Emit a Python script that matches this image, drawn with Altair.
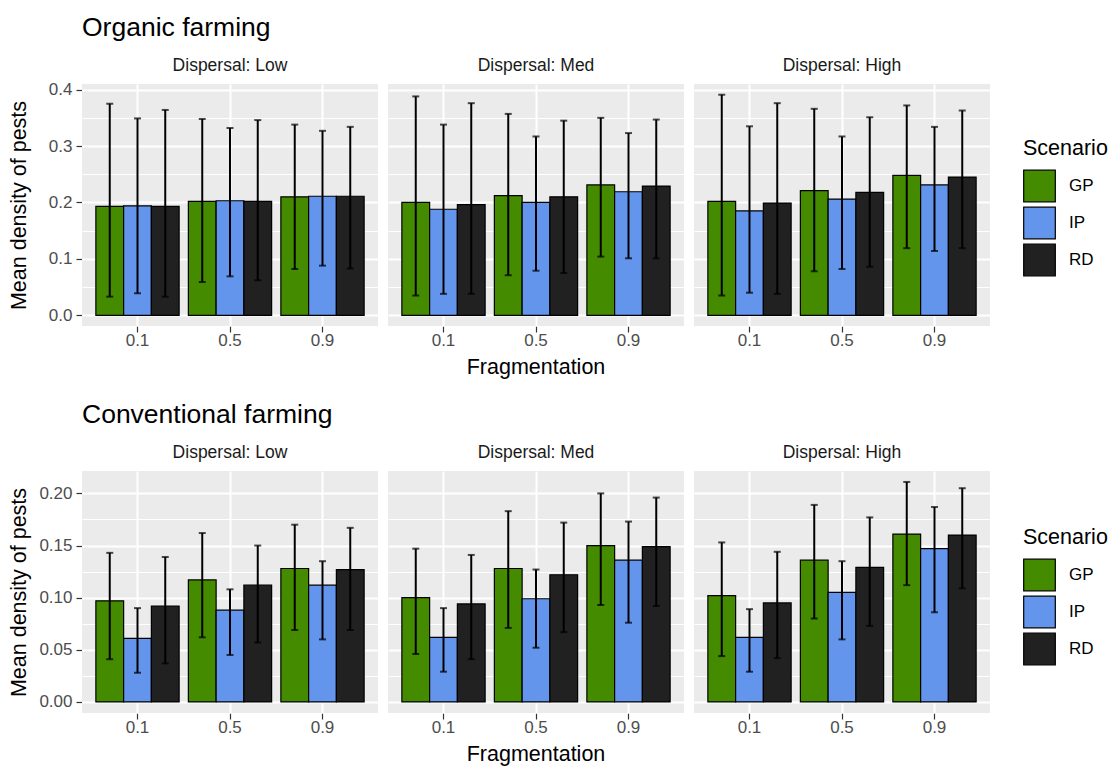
import altair as alt
import pandas as pd

fragmentation = ["0.1", "0.5", "0.9"]
dispersal = ["Low", "Med", "High"]
scenario = ["GP", "IP", "RD"]
colors = ["#458B00", "#6495ED", "#212121"]

# values ordered: fragmentation (outer) x scenario (inner), one list per dispersal level
org_mean = {
    "Low":  [0.193, 0.194, 0.193, 0.202, 0.203, 0.202, 0.210, 0.211, 0.211],
    "Med":  [0.200, 0.188, 0.196, 0.212, 0.200, 0.210, 0.231, 0.219, 0.229],
    "High": [0.202, 0.185, 0.199, 0.221, 0.206, 0.218, 0.248, 0.231, 0.245],
}
org_lo = {
    "Low":  [0.033, 0.039, 0.033, 0.059, 0.069, 0.062, 0.082, 0.088, 0.083],
    "Med":  [0.035, 0.038, 0.038, 0.071, 0.079, 0.075, 0.104, 0.101, 0.101],
    "High": [0.035, 0.040, 0.038, 0.078, 0.082, 0.086, 0.119, 0.114, 0.119],
}
org_hi = {
    "Low":  [0.375, 0.349, 0.364, 0.348, 0.332, 0.346, 0.338, 0.327, 0.334],
    "Med":  [0.388, 0.338, 0.376, 0.357, 0.317, 0.345, 0.350, 0.323, 0.347],
    "High": [0.391, 0.335, 0.376, 0.366, 0.317, 0.351, 0.372, 0.334, 0.363],
}
con_mean = {
    "Low":  [0.097, 0.061, 0.092, 0.117, 0.088, 0.112, 0.128, 0.112, 0.127],
    "Med":  [0.100, 0.062, 0.094, 0.128, 0.099, 0.122, 0.150, 0.136, 0.149],
    "High": [0.102, 0.062, 0.095, 0.136, 0.105, 0.129, 0.161, 0.147, 0.160],
}
con_lo = {
    "Low":  [0.041, 0.028, 0.037, 0.062, 0.045, 0.057, 0.069, 0.060, 0.069],
    "Med":  [0.046, 0.029, 0.041, 0.071, 0.052, 0.067, 0.093, 0.076, 0.092],
    "High": [0.044, 0.029, 0.042, 0.080, 0.060, 0.073, 0.112, 0.086, 0.109],
}
con_hi = {
    "Low":  [0.143, 0.090, 0.139, 0.162, 0.108, 0.150, 0.170, 0.135, 0.167],
    "Med":  [0.147, 0.090, 0.141, 0.183, 0.127, 0.172, 0.200, 0.173, 0.196],
    "High": [0.153, 0.089, 0.144, 0.189, 0.135, 0.177, 0.211, 0.187, 0.205],
}


def build(mean, lo, hi):
    rows = []
    for d in dispersal:
        i = 0
        for f in fragmentation:
            for s in scenario:
                rows.append({"Dispersal": d, "Fragmentation": f, "Scenario": s,
                             "Mean": mean[d][i], "Lo": lo[d][i], "Hi": hi[d][i]})
                i += 1
    return pd.DataFrame(rows)


FONT = "Liberation Sans"


def make_row(df, title, domain, major, minor, fmt, ytitle_pad, legend_y):
    x_enc = alt.X("Fragmentation:N", sort=fragmentation,
                  scale=alt.Scale(paddingInner=0.1, paddingOuter=0.15),
                  axis=alt.Axis(title=None, bandPosition=0.5, grid=True, gridColor="white",
                                gridWidth=2, labelAngle=0, domain=False, labelPadding=0))
    xo_enc = alt.XOffset("Scenario:N", sort=scenario,
                         scale=alt.Scale(paddingInner=0, paddingOuter=0))
    yscale = alt.Scale(domain=domain, nice=False, zero=False)
    bars = alt.Chart().mark_bar(stroke="black", strokeWidth=1.2).encode(
        x=x_enc,
        xOffset=xo_enc,
        y=alt.Y("Mean:Q", scale=yscale,
                axis=alt.Axis(values=major, format=fmt, grid=True, gridColor="white",
                              gridWidth=2, domain=False, orient="left",
                              titlePadding=ytitle_pad,
                              title="Mean density of pests")),
        y2=alt.Y2(datum=0),
        fill=alt.Fill("Scenario:N", sort=scenario,
                      scale=alt.Scale(domain=scenario, range=colors),
                      legend=alt.Legend(title="Scenario", symbolType="square",
                                        symbolSize=1000, symbolStrokeColor="black",
                                        symbolStrokeWidth=1.2, symbolOpacity=1,
                                        titleFontSize=21.5, labelFontSize=17,
                                        titleFontWeight="normal", titleColor="black",
                                        labelColor="black", rowPadding=0,
                                        labelOffset=13, titlePadding=10,
                                        orient="none", legendX=941, legendY=legend_y)),
    )
    rules = alt.Chart().mark_rule(color="black", strokeWidth=2).encode(
        x=x_enc,
        xOffset=xo_enc,
        y=alt.Y("Lo:Q", scale=yscale,
                axis=alt.Axis(values=minor, grid=True, gridColor="white", gridWidth=1,
                              labels=False, ticks=False, domain=False, orient="left",
                              title=None)),
        y2="Hi:Q",
    )
    cap_hi = alt.Chart().mark_tick(color="black", thickness=2, size=7).encode(
        x=x_enc, xOffset=xo_enc, y=alt.Y("Hi:Q", scale=yscale, axis=None))
    cap_lo = alt.Chart().mark_tick(color="black", thickness=2, size=7).encode(
        x=x_enc, xOffset=xo_enc, y=alt.Y("Lo:Q", scale=yscale, axis=None))

    layer = alt.layer(bars, rules, cap_hi, cap_lo, data=df).resolve_axis(y="independent")
    layer = layer.properties(width=296, height=242)
    fac = layer.facet(
        column=alt.Column("Dispersal:N", sort=dispersal,
                          header=alt.Header(labelExpr="'Dispersal: ' + datum.value",
                                            labelFontSize=17.5, labelColor="#1A1A1A",
                                            labelFont=FONT, labelPadding=10,
                                            title="Fragmentation", titleOrient="bottom",
                                            labelOrient="top", titleFontSize=21.5,
                                            titleFontWeight="normal", titleColor="black",
                                            titleFont=FONT, titlePadding=-1)),
        spacing=10,
    ).properties(title=alt.TitleParams(title, anchor="start", fontSize=26.5, frame="group",
                                       offset=15, fontWeight="normal", font=FONT,
                                       color="black"))
    return fac


top = make_row(build(org_mean, org_lo, org_hi), "Organic farming", [-0.019, 0.41],
               [0.0, 0.1, 0.2, 0.3, 0.4], [0.05, 0.15, 0.25, 0.35], ".1f", 17.5, 54)
bottom = make_row(build(con_mean, con_lo, con_hi), "Conventional farming", [-0.0106, 0.2215],
                  [0.0, 0.05, 0.1, 0.15, 0.2], [0.025, 0.075, 0.125, 0.175], ".2f", 8, 56)

chart = alt.vconcat(top, bottom, spacing=23).resolve_legend(fill="independent").configure_view(
    fill="#EBEBEB", stroke=None
).configure_axis(
    labelFont=FONT, titleFont=FONT, labelFontSize=17, labelColor="#4D4D4D",
    titleFontSize=21.5, titleFontWeight="normal", titleColor="black",
    tickColor="#333333", tickSize=6, tickWidth=1.2, labelPadding=4
).configure_legend(labelFont=FONT, titleFont=FONT).properties(
    padding={"left": 0, "top": 7, "right": 0, "bottom": 0}
)

chart.save("out.html", embed_options={"renderer": "svg", "actions": False})
